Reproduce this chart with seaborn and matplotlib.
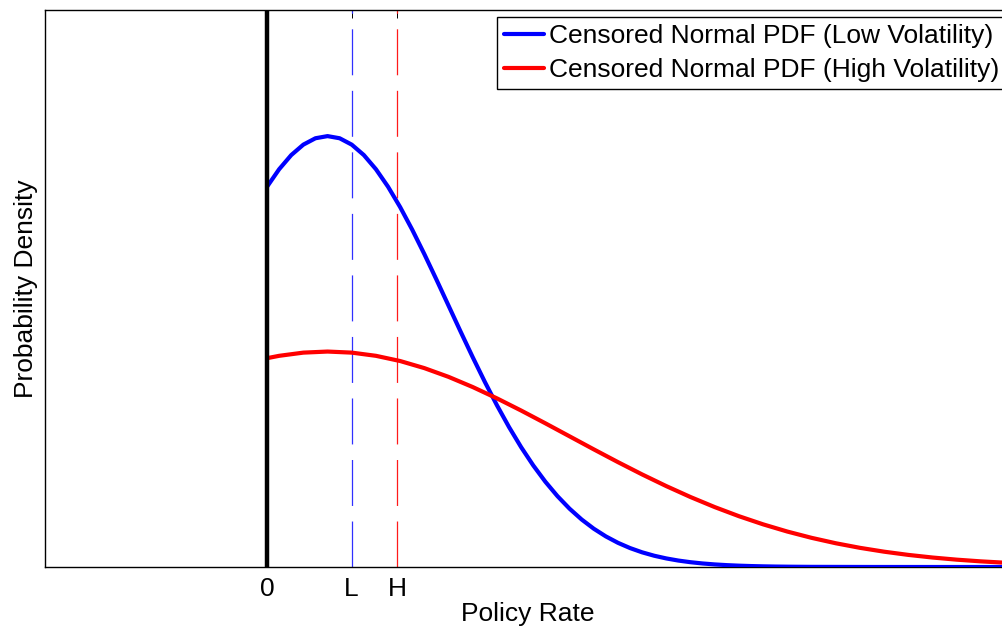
import numpy as np
import pandas as pd
import matplotlib
matplotlib.use("Agg")
import matplotlib.pyplot as plt
import seaborn as sns

# ---- data ----
low_x = [0.0, 0.1, 0.2, 0.3, 0.4, 0.5, 0.6, 0.7, 0.8, 0.9,
         1.0, 1.1, 1.2, 1.3, 1.4, 1.5, 1.6, 1.7, 1.8, 1.9,
         2.0, 2.1, 2.2, 2.3, 2.4, 2.5, 2.6, 2.7, 2.8, 2.9,
         3.0, 3.1, 3.2, 3.3, 3.4, 3.5, 3.6, 3.7, 3.8, 3.9,
         4.0, 4.1, 4.2, 4.3, 4.4, 4.5, 5.0, 5.5, 6.3]
low_y = [0.35207, 0.36827, 0.38139, 0.39104, 0.39695, 0.39894, 0.39695, 0.39104, 0.38139, 0.36827,
         0.35207, 0.33322, 0.31225, 0.28969, 0.26609, 0.24197, 0.21785, 0.19419, 0.17137, 0.14973,
         0.12952, 0.11092, 0.09405, 0.07895, 0.06562, 0.05399, 0.04398, 0.03547, 0.02833, 0.02239,
         0.01753, 0.01358, 0.01042, 0.00792, 0.00595, 0.00443, 0.00327, 0.00238, 0.00172, 0.00123,
         0.00087, 0.00061, 0.00042, 0.00029, 0.00020, 0.00013, 0.00002, 0.0, 0.0]

high_x = [0.0, 0.1, 0.3, 0.5, 0.7, 0.9, 1.1, 1.3, 1.5, 1.7,
          1.9, 2.1, 2.3, 2.5, 2.7, 2.9, 3.1, 3.3, 3.5, 3.7,
          3.9, 4.1, 4.3, 4.5, 4.7, 4.9, 5.1, 5.3, 5.5, 5.7,
          5.9, 6.1, 6.3]
high_y = [0.19334, 0.19552, 0.19848, 0.19947, 0.19848, 0.19552, 0.19070, 0.18414, 0.17604, 0.16661,
          0.15613, 0.14485, 0.13305, 0.12099, 0.10893, 0.09710, 0.08569, 0.07487, 0.06476, 0.05546,
          0.04703, 0.03948, 0.03281, 0.02700, 0.02199, 0.01774, 0.01417, 0.01120, 0.00877, 0.00679,
          0.00521, 0.00396, 0.00298]

series_names = ["Censored Normal PDF (Low Volatility)",
                "Censored Normal PDF (High Volatility)"]
series_colors = ["#0000ff", "#ff0000"]

tick_values = [0.0, 0.698, 1.073]   # 0, L, H
tick_labels = ["0", "L", "H"]
x_limits = [-1.835, 6.14]
y_limits = [0.0, 0.5157]

# ---- styling ----
sns.set_theme(style="white")
plt.rcParams["font.family"] = ["Liberation Sans", "DejaVu Sans"]
plt.rcParams["lines.scale_dashes"] = False
plt.rcParams["text.color"] = "black"
plt.rcParams["axes.labelcolor"] = "black"
plt.rcParams["xtick.color"] = "black"
plt.rcParams["ytick.color"] = "black"

FS = 19
W, H = 1003, 631
fig = plt.figure(figsize=(W / 100, H / 100), dpi=100)
ax = fig.add_axes([45 / W, (H - 567) / H, (1010 - 45) / W, 557 / H])

df = pd.concat([
    pd.DataFrame({"x": low_x, "y": low_y, "s": series_names[0]}),
    pd.DataFrame({"x": high_x, "y": high_y, "s": series_names[1]}),
])
sns.lineplot(data=df, x="x", y="y", hue="s", hue_order=series_names,
             palette=series_colors, linewidth=3, sort=False,
             estimator=None, ax=ax, zorder=3)
for ln in ax.get_lines():
    ln.set_solid_joinstyle("round")

# dashed markers at L and H
ax.plot([tick_values[1]] * 2, y_limits, color="#3030ff", lw=0.9,
        dashes=(33.1, 11.2), zorder=2)
ax.plot([tick_values[2]] * 2, y_limits, color="#ff1a1a", lw=0.9,
        dashes=(33.1, 11.2), zorder=2)
# zero line
ax.plot([0, 0], y_limits, color="black", lw=3.2, zorder=4, solid_capstyle="butt")

ax.set_xlim(x_limits)
ax.set_ylim(y_limits)
ax.set_xticks(tick_values)
ax.set_xticklabels(tick_labels, fontsize=FS, color="black")
ax.set_yticks([])
ax.tick_params(axis="x", direction="in", length=6, width=0.7, color="black",
               top=True, bottom=True, pad=7)
for sp in ax.spines.values():
    sp.set_color("black")
    sp.set_linewidth(1.0)
    sp.set_visible(True)

ax.set_xlabel("Policy Rate", fontsize=FS, labelpad=1, color="black")
ax.set_ylabel("Probability Density", fontsize=FS, labelpad=5, color="black")

leg = ax.legend(loc="upper left", bbox_to_anchor=(497 / W, 1 - 17 / H),
                bbox_transform=fig.transFigure, fontsize=FS, frameon=True,
                fancybox=False, shadow=False, handlelength=1.5,
                handletextpad=0.2, borderpad=0.28, labelspacing=0.36,
                borderaxespad=0, title=None)
leg.get_frame().set_edgecolor("black")
leg.get_frame().set_linewidth(1.0)
leg.get_frame().set_alpha(1)
for t in leg.get_texts():
    t.set_color("black")
for h in leg.get_lines():
    h.set_linewidth(3)

fig.savefig("out.png", dpi=100)
